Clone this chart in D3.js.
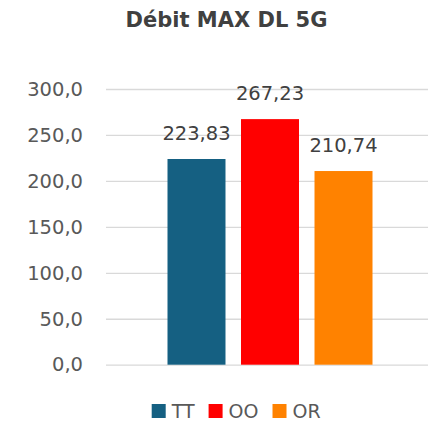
<!DOCTYPE html>
<html>
<head>
<meta charset="utf-8">
<script src="https://cdn.jsdelivr.net/npm/d3@7"></script>
<style>
  html, body { margin: 0; padding: 0; background: #fff; }
  svg { display: block; }
</style>
</head>
<body>
<div id="chart"></div>
<script>
'use strict';

var title = "Débit MAX DL 5G";
var categories = ["5G"];
var series = ["TT", "OO", "OR"];
var values = [223.83, 267.23, 210.74];
var colors = ["#156082", "#ff0000", "#ff8200"];
var yTicks = [0, 50, 100, 150, 200, 250, 300];

var width = 428, height = 423;
var plot = {left: 106, right: 434, top: 89, bottom: 364.7};

var svg = d3.select("#chart").append("svg")
  .attr("width", width).attr("height", height);

svg.append("rect").attr("width", width).attr("height", height).attr("fill", "#fff");

// title
svg.append("text")
  .attr("x", 226.5).attr("y", 26.5)
  .attr("text-anchor", "middle")
  .style("font-family", "'DejaVu Sans', sans-serif")
  .style("font-weight", "bold")
  .style("font-size", "21px")
  .attr("fill", "#404040")
  .text(title);

var y = d3.scaleLinear().domain([0, 300]).range([plot.bottom, plot.top]);

var x0 = d3.scaleBand().domain(categories)
  .range([plot.left, plot.right]).paddingInner(0).paddingOuter(0.3);
var x1 = d3.scaleBand().domain(series)
  .range([0, x0.bandwidth()]).paddingInner(0.211).paddingOuter(0);

// gridlines
var grid = svg.append("g")
  .attr("transform", "translate(" + plot.left + ",0)")
  .call(d3.axisLeft(y).tickValues(yTicks).tickSize(-(plot.right - plot.left)).tickFormat(""));
grid.select(".domain").remove();
grid.selectAll("line").attr("stroke", "#d9d9d9").attr("stroke-width", 1.3);

// y labels
var fmt = function (d) { return d.toFixed(1).replace(".", ","); };
var yAxis = svg.append("g")
  .attr("transform", "translate(" + plot.left + ",0)")
  .call(d3.axisLeft(y).tickValues(yTicks).tickSize(0).tickPadding(23).tickFormat(fmt));
yAxis.select(".domain").remove();
yAxis.selectAll("text")
  .attr("fill", "#595959")
  .style("font-family", "'DejaVu Sans', sans-serif")
  .style("font-size", "19.5px");

// bars
var rows = series.map(function (s, i) { return {cat: categories[0], s: s, v: values[i], c: colors[i]}; });

var g = svg.append("g");
g.selectAll("rect.bar").data(rows).enter().append("rect")
  .attr("class", "bar")
  .attr("x", function (d) { return x0(d.cat) + x1(d.s); })
  .attr("width", x1.bandwidth())
  .attr("y", function (d) { return y(d.v); })
  .attr("height", function (d) { return y(0) - y(d.v); })
  .attr("fill", function (d) { return d.c; });

g.selectAll("text.lbl").data(rows).enter().append("text")
  .attr("class", "lbl")
  .attr("x", function (d) { return x0(d.cat) + x1(d.s) + x1.bandwidth() / 2; })
  .attr("y", function (d) { return y(d.v) - 19; })
  .attr("text-anchor", "middle")
  .attr("fill", "#404040")
  .style("font-family", "'DejaVu Sans', sans-serif")
  .style("font-size", "19.5px")
  .text(function (d) { return d.v.toFixed(2).replace(".", ","); });

// legend (kept just inside the bottom edge)
var legend = svg.append("g").attr("transform", "translate(151.7,0)");
var lx = 0;
rows.forEach(function (d) {
  var item = legend.append("g").attr("transform", "translate(" + lx + ",0)");
  item.append("rect").attr("x", 0).attr("y", 404).attr("width", 14).attr("height", 14).attr("fill", d.c);
  var t = item.append("text")
    .attr("x", 20).attr("y", 418)
    .attr("fill", "#595959")
    .style("font-family", "'DejaVu Sans', sans-serif")
    .style("font-size", "19px")
    .text(d.s);
  lx += 20 + t.node().getComputedTextLength() + 14;
});
</script>
</body>
</html>
